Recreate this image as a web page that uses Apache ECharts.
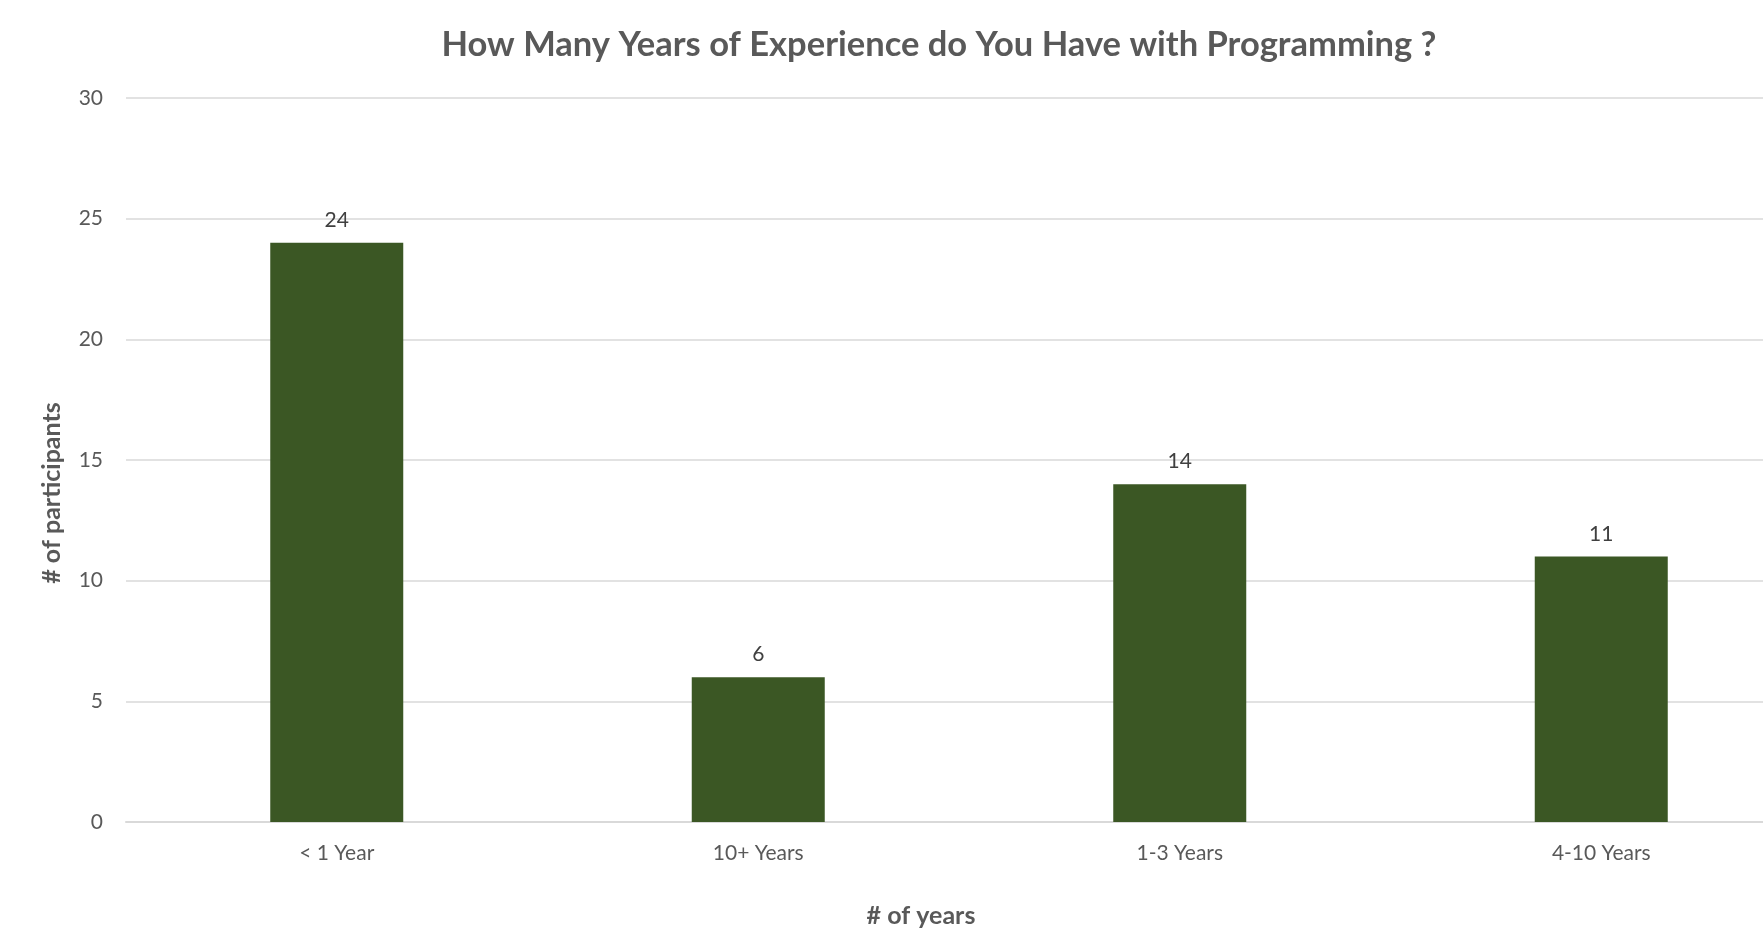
<!DOCTYPE html>
<html>
<head>
<meta charset="utf-8">
<script src="https://cdn.jsdelivr.net/npm/echarts@6/dist/echarts.min.js"></script>
<style>
html,body{margin:0;padding:0;background:#fff;}
#chart{width:1763px;height:928px;}
</style>
</head>
<body>
<div id="chart"></div>
<script>
const categories = ['< 1 Year', '10+ Years', '1-3 Years', '4-10 Years'];
const participants = [24, 6, 14, 11];
const yTicks = { min: 0, max: 30, interval: 5 };
const titleText = 'How Many Years of Experience do You Have with Programming ?';
const xAxisName = '# of years';
const yAxisName = '# of participants';

const chart = echarts.init(document.getElementById('chart'));
chart.setOption({
  backgroundColor: '#ffffff',
  animation: false,
  title: {
    text: titleText,
    left: 934,
    top: 22,
    textAlign: 'center',
    textStyle: { fontFamily: 'Lato', fontWeight: 'bold', fontSize: 34.5, color: '#595959' }
  },
  grid: { left: 126, width: 1686, top: 98, bottom: 106, containLabel: false, outerBoundsMode: 'none' },
  xAxis: {
    type: 'category',
    data: categories,
    name: xAxisName,
    nameLocation: 'middle',
    nameGap: 81,
    nameTextStyle: { fontFamily: 'Lato', fontWeight: 'bold', fontSize: 25, color: '#595959', padding: [0, 96, 0, 0] },
    axisLine: { show: true, lineStyle: { color: '#d9d9d9', width: 2 } },
    axisTick: { show: false },
    axisLabel: { fontFamily: 'Lato', fontSize: 21, color: '#595959', margin: 21 }
  },
  yAxis: {
    type: 'value',
    min: yTicks.min,
    max: yTicks.max,
    interval: yTicks.interval,
    name: yAxisName,
    nameLocation: 'middle',
    nameGap: 62,
    nameTextStyle: { fontFamily: 'Lato', fontWeight: 'bold', fontSize: 25, color: '#595959', padding: [0, 66, 0, 0] },
    axisLine: { show: false },
    axisTick: { show: false },
    axisLabel: { fontFamily: 'Lato', fontSize: 21, color: '#595959', margin: 23 },
    splitLine: { lineStyle: { color: '#d9d9d9', width: 1.5 } }
  },
  series: [{
    type: 'bar',
    data: participants,
    barWidth: 133,
    itemStyle: { color: '#3b5724' },
    label: {
      show: true,
      position: 'top',
      distance: 12,
      fontFamily: 'Lato',
      fontSize: 21,
      color: '#404040'
    }
  }]
});
</script>
</body>
</html>
